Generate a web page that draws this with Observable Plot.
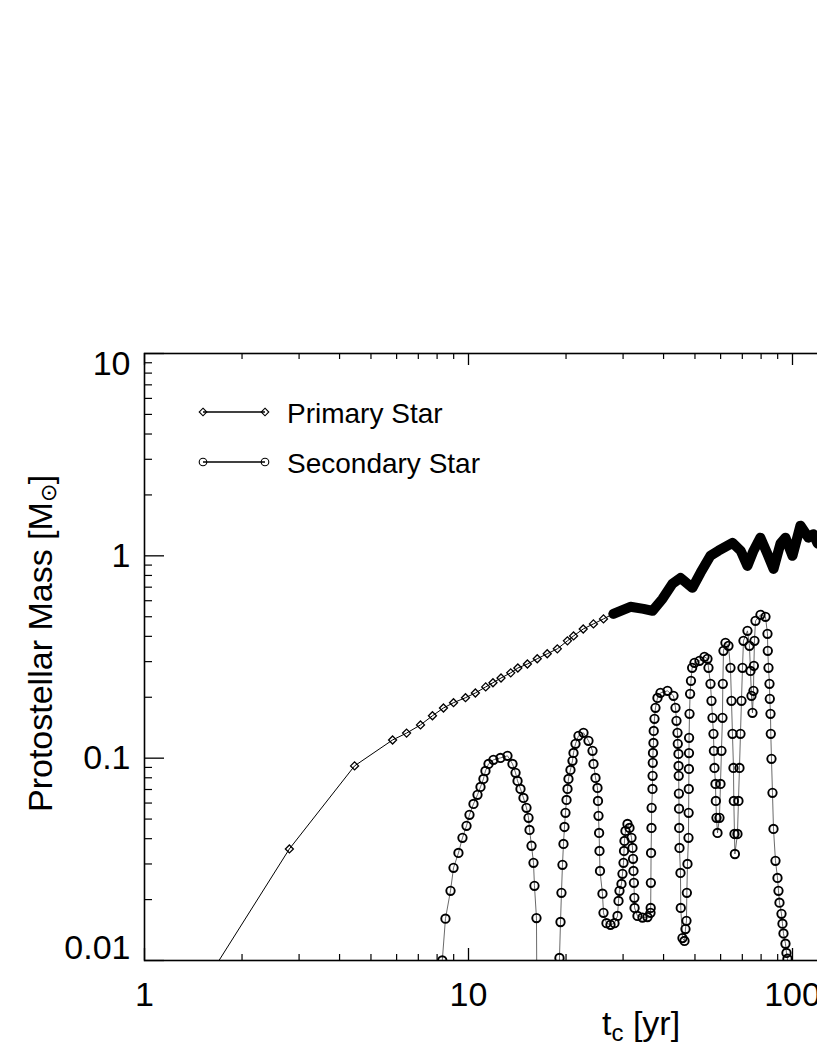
<!DOCTYPE html>
<html><head><meta charset="utf-8">
<script src="https://cdn.jsdelivr.net/npm/d3@7"></script>
<script src="https://cdn.jsdelivr.net/npm/@observablehq/plot@0.6"></script>
<style>
html,body{margin:0;padding:0;overflow:hidden;background:#fff;width:817px;height:1058px}
#chart{position:relative;width:817px;height:1058px;overflow:hidden}
#chart svg{max-width:none !important;display:block}
</style></head><body><div id="chart"></div>
<script>
// ---- tick values ----
const xMajor = [1, 10, 100, 1000];
const xMinor = [2,3,4,5,6,7,8,9,20,30,40,50,60,70,80,90,200,300,400,500,600,700,800,900];
const yMajor = [0.01, 0.1, 1, 10];
const yMinor = [0.02,0.03,0.04,0.05,0.06,0.07,0.08,0.09,0.2,0.3,0.4,0.5,0.6,0.7,0.8,0.9,2,3,4,5,6,7,8,9];
const yLabelsMid = [0.1, 1];
const yLabelBottom = [0.01];
const yLabelTop = [10];

// ---- Primary star [t (yr), M (Msun)] ----
const primarySparse = [[1.5,0.0073],[2.80,0.0356],[4.45,0.0916],[5.83,0.123],[6.44,0.133],[7.11,0.146],[7.74,0.162],[8.37,0.177],[8.99,0.188],[9.79,0.199],[10.5,0.210],[11.3,0.225],[11.9,0.236],[12.6,0.249],[13.5,0.264],[14.2,0.279],[15.2,0.292],[16.3,0.310],[17.5,0.328],[18.8,0.347],[20.2,0.380],[21.1,0.402],[22.6,0.435],[24.3,0.461],[26.1,0.488],[28.0,0.517]];
const primaryDense = [[28.0,0.517],[31.6,0.560],[34.7,0.547],[37.0,0.535],[39.7,0.613],[42.6,0.727],[45.1,0.778],[49.1,0.695],[52.0,0.824],[55.8,1.0],[59.1,1.06],[65.3,1.16],[69.2,1.06],[72.6,0.892],[75.8,1.06],[79.6,1.23],[83.7,1.02],[87.4,0.862],[91.8,1.15],[95.1,1.23],[100,1.0],[105.8,1.41],[112,1.23],[116,1.28],[119.5,1.15]];

// ---- Secondary star [t (yr), M (Msun)] ----
const secArc1 = [[8.30,0.0100],[8.49,0.0161],[8.80,0.0221],[8.99,0.0287],[9.31,0.0340],[9.58,0.0404],[9.86,0.0463],[10.07,0.0525],[10.36,0.0594],[10.66,0.0659],[10.89,0.0721],[11.12,0.0790],[11.28,0.0865],[11.53,0.0937],[11.94,0.0981],[12.55,0.1003],[13.19,0.1027],[13.67,0.0937],[13.97,0.0846],[14.17,0.0772],[14.47,0.0705],[14.78,0.0636],[15.10,0.0568],[15.32,0.0507],[15.43,0.0442],[15.65,0.0369],[15.87,0.0304],[15.98,0.0234],[16.21,0.0162],[16.3,0.003]];
const secArc2 = [[18.96,0.003],[19.09,0.0103],[19.23,0.0155],[19.36,0.0216],[19.50,0.0297],[19.64,0.0377],[19.78,0.0457],[19.92,0.0537],[20.07,0.0622],[20.21,0.0705],[20.35,0.0790],[20.64,0.0875],[20.94,0.0970],[21.09,0.1062],[21.39,0.1177],[21.85,0.1289],[22.64,0.1334],[23.46,0.1218],[24.14,0.1087],[24.31,0.0937],[24.66,0.0799],[25.01,0.0713],[25.10,0.0615],[25.19,0.0519],[25.30,0.0427],[25.37,0.0348],[25.46,0.0277],[25.91,0.0214],[26.10,0.0172],[26.66,0.0153],[27.43,0.0150],[28.22,0.0153],[28.83,0.0166]];
const secBump3 = [[29.04,0.0197],[29.24,0.0221],[29.66,0.0239],[29.87,0.0268],[30.09,0.0304],[30.20,0.0348],[30.30,0.0390],[30.51,0.0437],[30.95,0.0473],[31.40,0.0452],[31.85,0.0404],[32.07,0.0360],[32.20,0.0318],[32.30,0.0277],[32.40,0.0242],[32.50,0.0204],[32.55,0.0182],[33.23,0.0166],[34.43,0.0163],[35.68,0.0164],[36.45,0.0172]];
const secArc4 = [[36.50,0.0182],[36.55,0.0242],[36.60,0.0340],[36.71,0.0452],[36.75,0.0568],[36.97,0.0705],[37.00,0.0818],[37.05,0.0948],[37.10,0.1062],[37.23,0.1190],[37.30,0.1364],[37.50,0.1564],[37.76,0.1773],[38.30,0.1986],[39.13,0.2103],[41.13,0.2151],[42.92,0.2032],[43.54,0.1773],[43.84,0.1529],[44.16,0.1334],[44.25,0.1177],[44.47,0.1050],[44.50,0.0916],[44.55,0.0818],[44.60,0.0668],[44.65,0.0563],[44.70,0.0452],[44.79,0.0360],[45.11,0.0271],[45.20,0.0182],[45.75,0.0129],[46.41,0.0125]];
const secArc5 = [[46.74,0.0143],[47.07,0.0157],[47.20,0.0216],[47.41,0.0300],[47.75,0.0404],[47.80,0.0537],[47.85,0.0705],[47.90,0.0885],[47.92,0.106],[47.95,0.1260],[48.10,0.1656],[48.30,0.2079],[48.60,0.2410],[49.00,0.2795],[49.83,0.2959],[51.63,0.3027],[53.49,0.3168],[54.65,0.3097],[55.04,0.2795],[55.83,0.2330],[56.23,0.1920],[56.63,0.1582],[57.03,0.1319],[57.20,0.1087],[57.44,0.0895],[57.85,0.0746],[58.00,0.0615],[58.26,0.0507],[58.68,0.0427]];
const secArc6 = [[59.51,0.0507],[59.94,0.0746],[60.36,0.1087],[60.79,0.1582],[60.95,0.2330],[61.23,0.3392],[62.10,0.3715],[63.44,0.3590],[64.35,0.2795],[64.81,0.1920],[65.27,0.1319],[65.74,0.0895],[65.90,0.0615],[66.21,0.0422],[66.40,0.0336]];
const secArc7 = [[67.63,0.0422],[68.11,0.0615],[68.60,0.0895],[69.09,0.1319],[69.58,0.1920],[70.08,0.2795],[70.58,0.3800],[72.61,0.4258],[73.65,0.3590],[74.18,0.2700],[74.71,0.2032],[75.24,0.1675],[75.78,0.2151],[76.00,0.2859],[76.32,0.3800],[76.87,0.4771],[79.65,0.5109],[82.53,0.4994],[83.71,0.4115],[83.90,0.3392],[84.31,0.2795],[84.91,0.2330],[85.10,0.1964],[85.52,0.1656],[85.70,0.1319],[86.12,0.0992],[86.74,0.0674],[87.36,0.0447],[88.61,0.0311],[89.88,0.0256],[90.52,0.0221],[91.16,0.0193],[92.47,0.0170],[93.13,0.0152],[93.79,0.0136],[95.13,0.0121],[95.81,0.0109],[96.49,0.0102],[97.0,0.005]];

const secondary = [...secArc1, ...secArc2, ...secBump3, ...secArc4, ...secArc5, ...secArc6, ...secArc7];
const primaryAll = [...primarySparse, ...primaryDense.slice(1)];

// ---- layout ----
const FONT = "'Liberation Sans', Arial, Helvetica, sans-serif";
const W = 1160, H = 1058, mL = 144, mR = 44, mT = 353, mB = 98;
const fw = W - mL - mR, fh = H - mT - mB;
const X = d => d[0], Y = d => d[1];

const plot = Plot.plot({
  width: W, height: H,
  marginLeft: mL, marginRight: mR, marginTop: mT, marginBottom: mB,
  x: {type: "log", domain: [1, 1000], axis: null},
  y: {type: "log", domain: [0.01, 10], axis: null},
  style: {background: "#fff", color: "#000", fontFamily: FONT, fontSize: "34px", maxWidth: "none"},
  marks: [
    // data
    Plot.line(secondary, {x: X, y: Y, stroke: "#444", strokeWidth: 0.8, clip: true}),
    Plot.dot(secondary, {x: X, y: Y, r: 4.2, stroke: "#000", strokeWidth: 1.9, fill: "none", clip: true}),
    Plot.line(primaryAll, {x: X, y: Y, stroke: "#000", strokeWidth: 1, clip: true}),
    Plot.line(primaryDense, {x: X, y: Y, stroke: "#000", strokeWidth: 10, strokeLinejoin: "round", strokeLinecap: "round", clip: true}),
    Plot.dot(primarySparse, {x: X, y: Y, symbol: "diamond2", r: 3.6, stroke: "#000", strokeWidth: 1.3, fill: "none", clip: true}),
    // frame and inward ticks
    Plot.frame({stroke: "#000", strokeWidth: 1.6}),
    Plot.tickX(xMajor, {x: d => d, insetTop: fh - 12, stroke: "#000", strokeWidth: 1.3}),
    Plot.tickX(xMinor, {x: d => d, insetTop: fh - 6, stroke: "#000", strokeWidth: 1.2}),
    Plot.tickX(xMajor, {x: d => d, insetBottom: fh - 12, stroke: "#000", strokeWidth: 1.3}),
    Plot.tickX(xMinor, {x: d => d, insetBottom: fh - 6, stroke: "#000", strokeWidth: 1.2}),
    Plot.tickY(yMajor, {y: d => d, insetRight: fw - 20, stroke: "#000", strokeWidth: 1.3}),
    Plot.tickY(yMinor, {y: d => d, insetRight: fw - 8, stroke: "#000", strokeWidth: 1.2}),
    Plot.tickY(yMajor, {y: d => d, insetLeft: fw - 20, stroke: "#000", strokeWidth: 1.3}),
    Plot.tickY(yMinor, {y: d => d, insetLeft: fw - 8, stroke: "#000", strokeWidth: 1.2}),
    // tick labels
    Plot.text(xMajor, {x: d => d, text: d => String(d), frameAnchor: "bottom", dy: 35, lineAnchor: "middle", fontSize: 34, fill: "#000"}),
    Plot.text(yLabelsMid, {y: d => d, text: d => String(d), frameAnchor: "left", dx: -14, textAnchor: "end", lineAnchor: "middle", fontSize: 34, fill: "#000"}),
    Plot.text(yLabelBottom, {y: d => d, text: d => String(d), frameAnchor: "left", dx: -14, dy: -12, textAnchor: "end", lineAnchor: "middle", fontSize: 34, fill: "#000"}),
    Plot.text(yLabelTop, {y: d => d, text: d => String(d), frameAnchor: "left", dx: -14, dy: 11, textAnchor: "end", lineAnchor: "middle", fontSize: 34, fill: "#000"})
  ]
});
plot.style.maxWidth = "none";
plot.setAttribute("width", W);
plot.setAttribute("height", H);

document.getElementById("chart").appendChild(plot);

// ---- axis titles and legend ----
const svg = d3.select(plot);
const g = svg.append("g").attr("font-family", FONT).attr("fill", "#000").attr("text-anchor", "start");

const xl = g.append("text").attr("x", 602).attr("y", 1035).attr("font-size", 34).attr("text-anchor", "start");
xl.append("tspan").text("t");
xl.append("tspan").attr("font-size", 24).attr("dy", 6).text("c");
xl.append("tspan").attr("dy", -6).text(" [yr]");

const yl = g.append("text").attr("transform", "translate(52,812) rotate(-90)").attr("font-size", 34).attr("text-anchor", "start");
yl.append("tspan").text("Protostellar Mass [M");
yl.append("tspan").attr("font-size", 22).attr("dy", 4).text("\u2299");
yl.append("tspan").attr("dy", -4).text("]");

const legend = [
  {label: "Primary Star", y: 412, sym: "diamond", ty: 423},
  {label: "Secondary Star", y: 462, sym: "circle", ty: 473}
];
legend.forEach(e => {
  g.append("line").attr("x1", 203).attr("x2", 265).attr("y1", e.y).attr("y2", e.y)
    .attr("stroke", "#000").attr("stroke-width", 1.3);
  [203, 265].forEach(cx => {
    if (e.sym === "diamond") {
      g.append("path").attr("d", `M${cx},${e.y-3.8}L${cx+3.8},${e.y}L${cx},${e.y+3.8}L${cx-3.8},${e.y}Z`)
        .attr("fill", "none").attr("stroke", "#000").attr("stroke-width", 1.1);
    } else {
      g.append("circle").attr("cx", cx).attr("cy", e.y).attr("r", 3.8)
        .attr("fill", "none").attr("stroke", "#000").attr("stroke-width", 1.1);
    }
  });
  g.append("text").attr("x", 287).attr("y", e.ty).attr("font-size", 28).attr("text-anchor", "start").text(e.label);
});
</script></body></html>
